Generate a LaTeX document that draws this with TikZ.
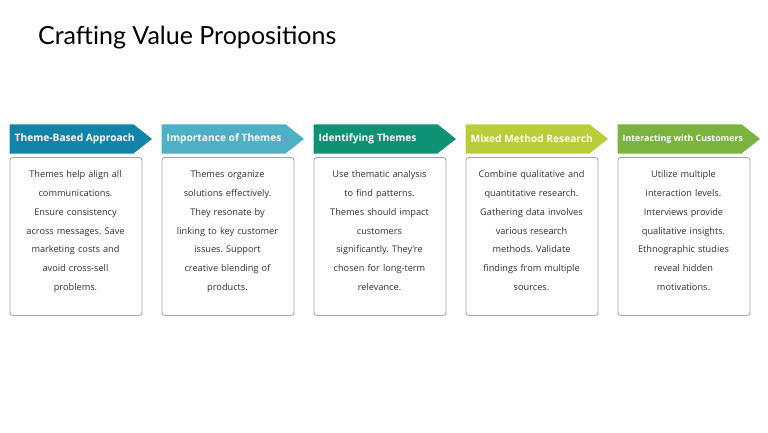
\documentclass[tikz,border=0pt]{standalone}
\usepackage{fontspec}
\setmainfont{Open Sans}
\newfontfamily\titlefont{Lato}
\definecolor{cA}{RGB}{18,132,168}
\definecolor{cB}{RGB}{78,176,196}
\definecolor{cC}{RGB}{14,146,118}
\definecolor{cD}{RGB}{186,204,58}
\definecolor{cE}{RGB}{122,180,62}
\definecolor{boxline}{RGB}{166,166,166}
\definecolor{txt}{RGB}{50,50,50}
\begin{document}
\frenchspacing
\begin{tikzpicture}[x=1pt,y=-1pt,
  hdtext/.style={anchor=west,text=white,inner sep=0pt},
  cardbox/.style={draw=boxline,line width=0.9pt,rounded corners=3pt,fill=white},
  bodytext/.style={anchor=north,align=center,text=txt,font=\fontsize{9.2}{18.8}\selectfont,inner sep=0pt,text width=130pt}]
\useasboundingbox (0,0) rectangle (768,432);
\node[anchor=base west,inner sep=0pt,font=\titlefont\fontsize{25}{28}\selectfont,text=black] (title) at (38,44) {Crafting Value Propositions};

\foreach \i/\x/\c/\h/\t/\fs in {
 1/9.5/cA/{Theme-Based Approach}/{Themes help align all\\communications.\\Ensure consistency\\across messages. Save\\marketing costs and\\avoid cross-sell\\problems.}/10.2,
 2/161.5/cB/{Importance of Themes}/{Themes organize\\solutions effectively.\\They resonate by\\linking to key customer\\issues. Support\\creative blending of\\products.}/10.2,
 3/313.5/cC/{Identifying Themes}/{Use thematic analysis\\to find patterns.\\Themes should impact\\customers\\significantly. They're\\chosen for long-term\\relevance.}/10.2,
 4/465.5/cD/{Mixed Method Research}/{Combine qualitative and\\quantitative research.\\Gathering data involves\\various research\\methods. Validate\\findings from multiple\\sources.}/10.2,
 5/617.5/cE/{Interacting with Customers}/{Utilize multiple\\interaction levels.\\Interviews provide\\qualitative insights.\\Ethnographic studies\\reveal hidden\\motivations.}/8.8}
{
  \fill[\c] (\x,124.3) -- (\x+124,124.3) -- (\x+142.5,138.9) -- (\x+124,153.5) -- (\x,153.5) -- cycle;
  \node[hdtext,font=\bfseries\fontsize{\fs}{11}\selectfont] (hd\i) at (\x+5,139) {\h};
  \node[cardbox,minimum width=132pt,minimum height=158pt,anchor=north west,inner sep=0pt] (card\i) at (\x,157) {};
  \node[bodytext] (body\i) at (\x+66,170.5) {\t};
}
\end{tikzpicture}
\end{document}
